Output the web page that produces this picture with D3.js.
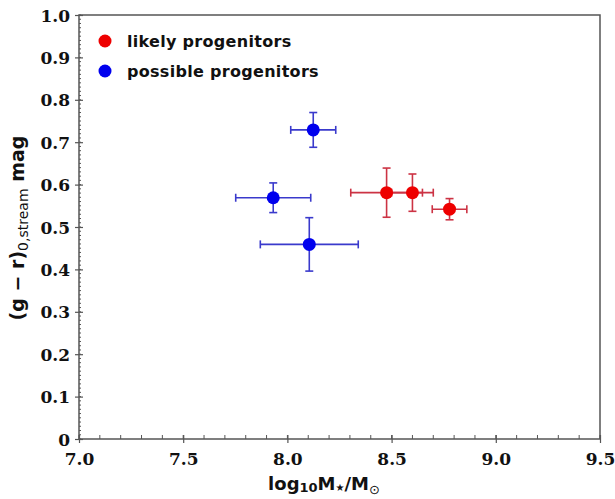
<!DOCTYPE html>
<html><head><meta charset="utf-8">
<script src="https://cdn.jsdelivr.net/npm/d3@7"></script>
<style>body{margin:0;background:#fff}</style>
</head><body>
<svg id="c" width="615" height="499"></svg>
<script>
// Data
const seriesNames = ["likely progenitors", "possible progenitors"];
const likelyX = [8.476, 8.600, 8.778];
const likelyY = [0.581, 0.581, 0.542];
const likelyXerr = [0.172, 0.100, 0.083];
const likelyYerr = [0.058, 0.044, 0.025];
const possibleX = [8.124, 7.932, 8.105];
const possibleY = [0.729, 0.569, 0.459];
const possibleXerr = [0.108, 0.180, 0.235];
const possibleYerr = [0.041, 0.035, 0.063];
const xTicks = [7.0, 7.5, 8.0, 8.5, 9.0, 9.5];
const yTicks = [0, 0.1, 0.2, 0.3, 0.4, 0.5, 0.6, 0.7, 0.8, 0.9, 1.0];
const markerColors = ["#ee0000", "#0000ee"];
const barColors = ["#cc3344", "#3a3acc"];

const svg = d3.select("#c");
const L = 79, R = 600, T = 15, B = 439;
const x = d3.scaleLinear().domain([7.0, 9.5]).range([L, R]);
const y = d3.scaleLinear().domain([0, 1.0]).range([B, T]);
const frameCol = "#555";
const serif = "'DejaVu Serif', 'Liberation Serif', serif";

// minor ticks
const xMinor = d3.range(7.0, 9.5001, 0.1).map(v => +v.toFixed(2));
svg.append("g").selectAll("line").data(xMinor).join("line")
  .attr("x1", d => x(d)).attr("x2", d => x(d)).attr("y1", B).attr("y2", B - 4)
  .attr("stroke", frameCol).attr("stroke-width", 1);
const yMinor = d3.range(0, 1.0001, 0.01).map(v => +v.toFixed(3));
svg.append("g").selectAll("line").data(yMinor).join("line")
  .attr("x1", L).attr("x2", L + 2).attr("y1", d => y(d)).attr("y2", d => y(d))
  .attr("stroke", frameCol).attr("stroke-width", 1);

// axes with major ticks
const xAxis = d3.axisBottom(x).tickValues(xTicks).tickFormat(d3.format(".1f")).tickSizeInner(4).tickSizeOuter(0).tickPadding(5);
const gx = svg.append("g").attr("transform", `translate(0,${B})`).call(xAxis);
const yAxis = d3.axisLeft(y).tickValues(yTicks).tickFormat(d => d === 0 ? "0" : d3.format(".1f")(d)).tickSizeInner(4).tickSizeOuter(0).tickPadding(5);
const gy = svg.append("g").attr("transform", `translate(${L},0)`).call(yAxis);
[gx, gy].forEach(g => {
  g.attr("font-family", serif);
  g.select(".domain").remove();
  g.selectAll(".tick line").attr("stroke", frameCol).attr("stroke-width", 1.2);
  g.selectAll("text").style("font-family", serif).attr("font-weight", "bold")
    .attr("font-size", 17).attr("fill", "#111");
});
gx.selectAll(".tick line").attr("y1", -4).attr("y2", 4);
gx.selectAll("text").attr("dy", "1.0em");
gy.selectAll(".tick line").attr("x1", -4).attr("x2", 4);
gy.selectAll("text").attr("dy", "0.36em");

// frame
svg.append("rect").attr("x", L).attr("y", T).attr("width", R - L).attr("height", B - T)
  .attr("fill", "none").attr("stroke", frameCol).attr("stroke-width", 1.5);

// data
const series = [
  {xs: likelyX, ys: likelyY, xe: likelyXerr, ye: likelyYerr},
  {xs: possibleX, ys: possibleY, xe: possibleXerr, ye: possibleYerr}
];
const cap = 4;
series.forEach((s, si) => {
  const g = svg.append("g");
  const pts = s.xs.map((v, i) => ({x: v, y: s.ys[i], xe: s.xe[i], ye: s.ye[i]}));
  const c = barColors[si];
  pts.forEach(p => {
    const x0 = x(p.x - p.xe), x1 = x(p.x + p.xe), yc = y(p.y);
    const y0 = y(p.y - p.ye), y1 = y(p.y + p.ye), xc = x(p.x);
    const lines = [
      [x0, yc, x1, yc], [x0, yc - cap, x0, yc + cap], [x1, yc - cap, x1, yc + cap],
      [xc, y0, xc, y1], [xc - cap, y0, xc + cap, y0], [xc - cap, y1, xc + cap, y1]
    ];
    lines.forEach(l => g.append("line").attr("x1", l[0]).attr("y1", l[1]).attr("x2", l[2]).attr("y2", l[3])
      .attr("stroke", c).attr("stroke-width", 1.6));
  });
  g.selectAll("circle").data(pts).join("circle")
    .attr("cx", d => x(d.x)).attr("cy", d => y(d.y)).attr("r", 6.5).attr("fill", markerColors[si]);
});

// legend
seriesNames.forEach((n, i) => {
  svg.append("circle").attr("cx", 105).attr("cy", 41 + i * 30).attr("r", 6.5).attr("fill", markerColors[i]);
  svg.append("text").attr("x", 127).attr("y", 47 + i * 30).text(n)
    .attr("font-family", "DejaVu Sans").attr("font-weight", "bold").attr("font-size", 16)
    .attr("letter-spacing", 0.3).attr("fill", "#111");
});

// x label
const xl = svg.append("text").attr("x", 324).attr("y", 490).attr("text-anchor", "middle")
  .attr("font-family", "DejaVu Sans").attr("font-weight", "bold").attr("font-size", 18).attr("fill", "#111");
xl.append("tspan").text("log");
xl.append("tspan").text("10").attr("font-size", 13).attr("dy", 2);
xl.append("tspan").text("M").attr("dy", -2);
xl.append("tspan").text("★").attr("font-size", 10).attr("dy", 1).attr("font-weight", "normal");
xl.append("tspan").text("/M").attr("dy", -1);
xl.append("tspan").text("⊙").attr("font-size", 13).attr("dy", 4).attr("font-weight", "normal");

// y label
const yl = svg.append("text").attr("transform", "translate(24,228) rotate(-90)").attr("text-anchor", "middle")
  .attr("font-family", "DejaVu Sans").attr("font-weight", "bold").attr("font-size", 19).attr("fill", "#111");
yl.append("tspan").text("(g − r)");
yl.append("tspan").text("0,stream").attr("font-size", 14).attr("dy", 4).attr("font-weight", "normal");
yl.append("tspan").text(" mag").attr("dy", -4);
</script>
</body></html>
